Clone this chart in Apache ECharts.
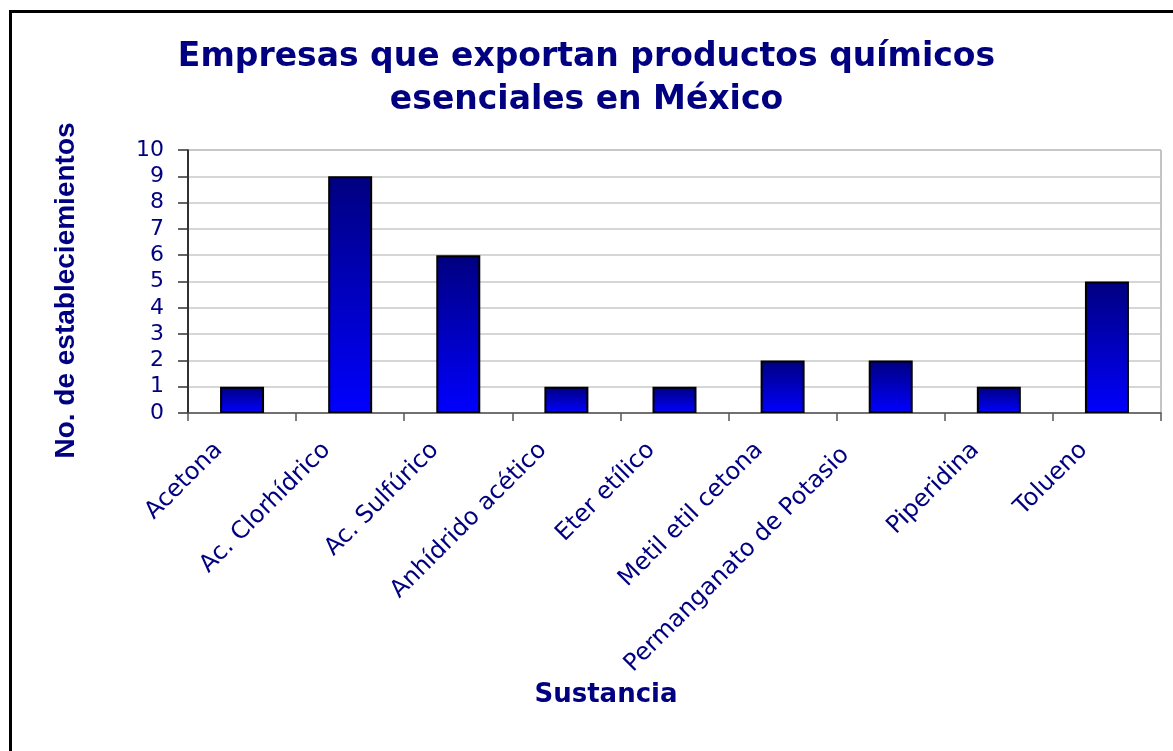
<!DOCTYPE html>
<html>
<head>
<meta charset="utf-8">
<script src="https://cdn.jsdelivr.net/npm/echarts@6/dist/echarts.min.js"></script>
<style>
html,body{margin:0;padding:0;background:#fff;overflow:hidden;}
#frame{position:absolute;left:9px;top:10px;width:1300px;height:900px;border-left:3px solid #000;border-top:3px solid #000;}
#chart{position:absolute;left:0;top:0;width:1173px;height:751px;}
</style>
</head>
<body>
<div id="frame"></div>
<div id="chart"></div>
<script>
const titleLines = ['Empresas que exportan productos químicos', 'esenciales en México'];
const categories = ['Acetona', 'Ac. Clorhídrico', 'Ac. Sulfúrico', 'Anhídrido acético', 'Eter etílico', 'Metil etil cetona', 'Permanganato de Potasio', 'Piperidina', 'Tolueno'];
const values = [1, 9, 6, 1, 1, 2, 2, 1, 5];
const yTicks = [0, 1, 2, 3, 4, 5, 6, 7, 8, 9, 10];
const xName = 'Sustancia';
const yName = 'No. de estableciemientos';

const navy = '#000080';
// the long label sits further left in the reference
const categoryData = categories.map(function (c) {
  if (c === 'Permanganato de Potasio') {
    return {value: c, textStyle: {verticalAlign: 'bottom', padding: [0, 52, 0, 0]}};
  }
  return c;
});

const chart = echarts.init(document.getElementById('chart'), null, {renderer: 'canvas'});
chart.setOption({
  backgroundColor: 'transparent',
  animation: false,
  title: {
    text: titleLines.join('\n'),
    left: 'center',
    top: 31,
    padding: [5, 5, 5, 19],
    textStyle: {fontFamily: 'DejaVu Sans', fontWeight: 'bold', fontSize: 33, lineHeight: 43, color: navy}
  },
  grid: {
    left: 188, right: 12, top: 150, bottom: 338,
    show: true, borderColor: '#888', borderWidth: 1, backgroundColor: 'transparent'
  },
  xAxis: {
    type: 'category',
    data: categoryData,
    name: xName,
    nameLocation: 'middle',
    nameGap: 269,
    nameTextStyle: {fontFamily: 'DejaVu Sans', fontWeight: 'bold', fontSize: 26, color: navy, padding: [0, 137, 0, 0]},
    axisLine: {lineStyle: {color: '#555', width: 1.5}},
    axisTick: {show: true, length: 8, alignWithLabel: false, lineStyle: {color: '#555', width: 1.5}},
    axisLabel: {
      rotate: 45, interval: 0, margin: 10,
      fontFamily: 'DejaVu Sans', fontSize: 24, color: navy,
      padding: [0, 33, 0, 0]
    },
    splitLine: {show: false}
  },
  yAxis: {
    type: 'value',
    min: yTicks[0], max: yTicks[yTicks.length - 1], interval: 1,
    name: yName,
    nameLocation: 'middle',
    nameGap: 108,
    nameRotate: 90,
    nameTextStyle: {fontFamily: 'Liberation Sans', fontWeight: 'bold', fontSize: 28, color: navy, padding: [0, 18, 0, 0]},
    axisLine: {show: true, lineStyle: {color: '#000', width: 1.5}},
    axisTick: {show: true, length: 10, lineStyle: {color: '#333', width: 1.5}},
    axisLabel: {margin: 24, fontFamily: 'DejaVu Sans', fontSize: 22, color: navy},
    splitLine: {show: true, lineStyle: {color: '#c8c8c8', width: 1.5}}
  },
  series: [{
    type: 'bar',
    data: values,
    barWidth: 44,
    itemStyle: {
      borderColor: '#000',
      borderWidth: 2,
      color: new echarts.graphic.LinearGradient(0, 0, 0, 1, [
        {offset: 0, color: '#000080'},
        {offset: 1, color: '#0000ff'}
      ])
    }
  }]
});
</script>
</body>
</html>
